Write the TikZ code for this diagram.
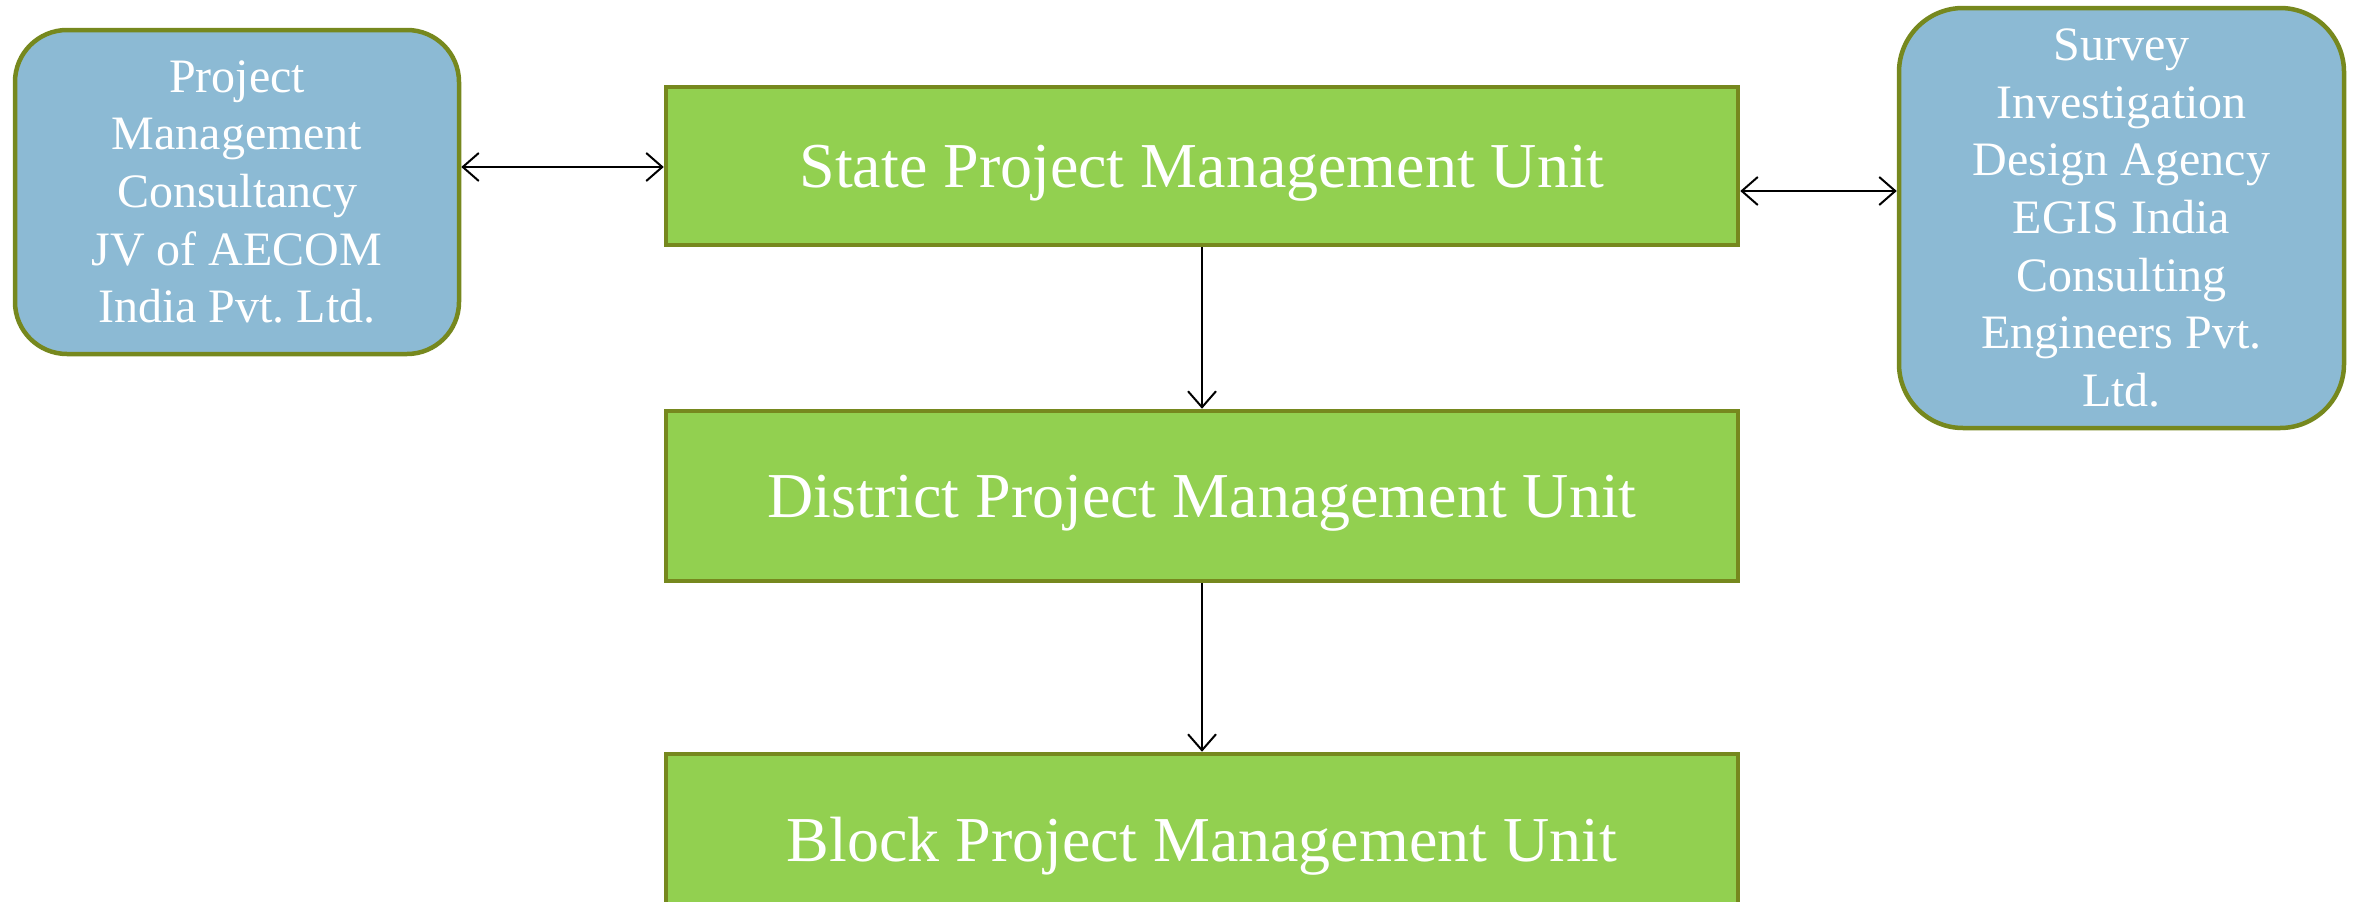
\documentclass[tikz,border=0pt]{standalone}
\usepackage{fontspec}
\setmainfont{Liberation Serif}
\usetikzlibrary{arrows.meta}
\frenchspacing
\definecolor{olivebd}{RGB}{118,136,30}
\definecolor{bluefill}{RGB}{140,186,212}
\definecolor{greenfill}{RGB}{146,208,80}
\tikzset{
  unitbox/.style={draw=olivebd, line width=4.5pt, fill=greenfill, text=white,
    minimum width=1072pt, inner sep=0pt, text depth=0pt, font=\fontsize{64}{76}\selectfont},
  agencybox/.style={draw=olivebd, line width=4.5pt, fill=bluefill, text=white,
    align=center, inner sep=0pt, font=\fontsize{48}{57.6}\selectfont},
  link/.style={line width=2pt, draw=black},
  tipboth/.style={link, {Straight Barb[length=16pt,width=28pt,line width=2pt]}-{Straight Barb[length=16pt,width=28pt,line width=2pt]}},
  tipone/.style={link, -{Straight Barb[length=16pt,width=28pt,line width=2pt]}}
}
\begin{document}
\begin{tikzpicture}[x=1pt,y=-1pt]
\useasboundingbox (0,0) rectangle (2361,902);
\clip (0,0) rectangle (2361,902);
\node[agencybox, rounded corners=52pt, minimum width=444pt, minimum height=324pt] (pmc) at (237,192)
  {Project\\Management\\Consultancy\\JV of AECOM\\India Pvt. Ltd.};
\node[unitbox, minimum height=158pt] (spmu) at (1202,166) {State Project Management Unit};
\node[agencybox, rounded corners=64pt, minimum width=445pt, minimum height=420pt] (sida) at (2121.5,218)
  {Survey\\Investigation\\Design Agency\\EGIS India\\Consulting\\Engineers Pvt.\\Ltd.};
\node[unitbox, minimum height=170pt] (dpmu) at (1202,496) {District Project Management Unit};
\node[unitbox, minimum height=170pt] (bpmu) at (1202,839) {Block Project Management Unit};
\coordinate (lr) at (0,167);
\coordinate (rr) at (0,191);
\draw[tipboth] (pmc.east |- lr) -- (spmu.west |- lr);
\draw[tipboth] (spmu.east |- rr) -- (sida.west |- rr);
\draw[tipone] (spmu.south) -- (dpmu.north);
\draw[tipone] (dpmu.south) -- (bpmu.north);
\end{tikzpicture}
\end{document}
